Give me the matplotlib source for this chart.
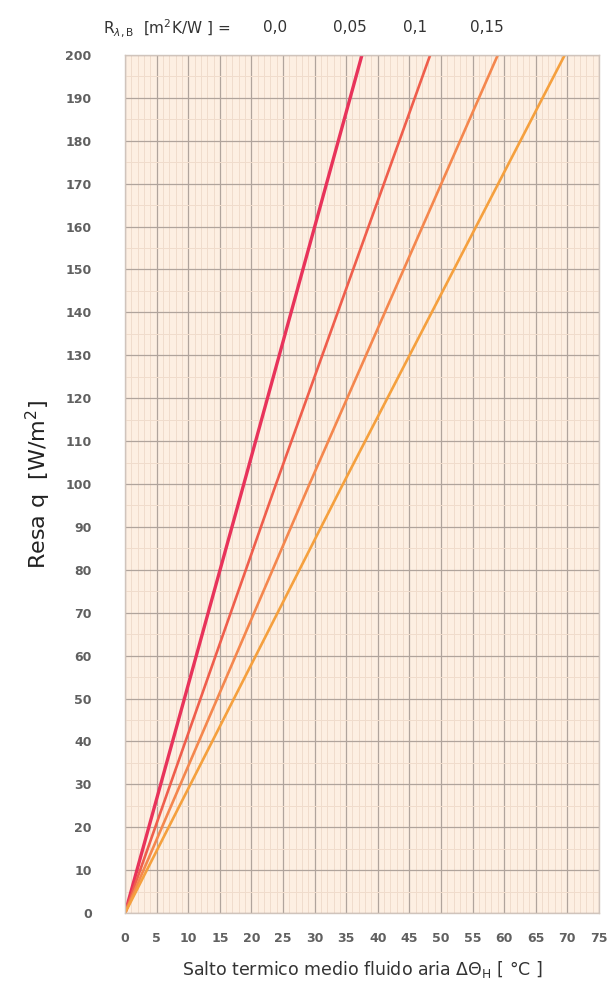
import matplotlib
matplotlib.use("Agg")
import matplotlib.pyplot as plt
import numpy as np

# Data
q_values = [0, 100, 200]
dT_R000 = [0, 18.8, 37.5]
dT_R005 = [0, 23.9, 48.3]
dT_R010 = [0, 29.2, 59.0]
dT_R015 = [0, 34.5, 69.6]
r_labels = ["0,0", "0,05", "0,1", "0,15"]
series = [dT_R000, dT_R005, dT_R010, dT_R015]
colors = ["#e8335a", "#ef5e4c", "#f4874e", "#f5a03e"]
widths = [2.4, 1.9, 1.9, 1.9]

fig = plt.figure(figsize=(6.13, 9.92), dpi=100)
ax = fig.add_axes([0.204, 0.0796, 0.773, 0.865])
ax.set_facecolor("#fdefe2")

ax.set_xlim(0, 75)
ax.set_ylim(0, 200)
ax.set_xticks(np.arange(0, 76, 5))
ax.set_yticks(np.arange(0, 201, 10))
ax.set_xticks(np.arange(0, 76, 1), minor=True)
ax.set_yticks(np.arange(0, 201, 5), minor=True)
ax.grid(which="major", color="#b0a49c", linewidth=0.9)
ax.grid(which="minor", color="#f0dccc", linewidth=0.7)
ax.set_axisbelow(True)
ax.tick_params(which="both", length=0)
ax.tick_params(axis="x", pad=14)
ax.tick_params(axis="y", pad=24)
for lab in ax.get_xticklabels() + ax.get_yticklabels():
    lab.set_fontweight("bold")
    lab.set_color("#606060")
    lab.set_fontsize(9)
for s in ax.spines.values():
    s.set_color("#d0c4bc")
    s.set_linewidth(1.0)

for xs, c, w in zip(series, colors, widths):
    ax.plot(xs, q_values, color=c, linewidth=w, solid_capstyle="butt")

ax.set_xlabel(r"Salto termico medio fluido aria $\Delta\Theta_{\rm H}$ [ °C ]",
              fontsize=12.5, color="#333333", labelpad=10)
ax.set_ylabel(r"Resa q  [W/m$^2$]", fontsize=16, color="#222222", labelpad=9)

fig.text(0.168, 0.972, r"R$_{\lambda,\rm B}$  [m$^2$K/W ] =", fontsize=11,
         color="#333333", ha="left", va="center")
for lab, xp in zip(r_labels, [275, 350, 415, 487]):
    fig.text(xp / 613, 0.972, lab, fontsize=11, color="#333333",
             ha="center", va="center")

fig.savefig("out.png", dpi=100, facecolor="white")
